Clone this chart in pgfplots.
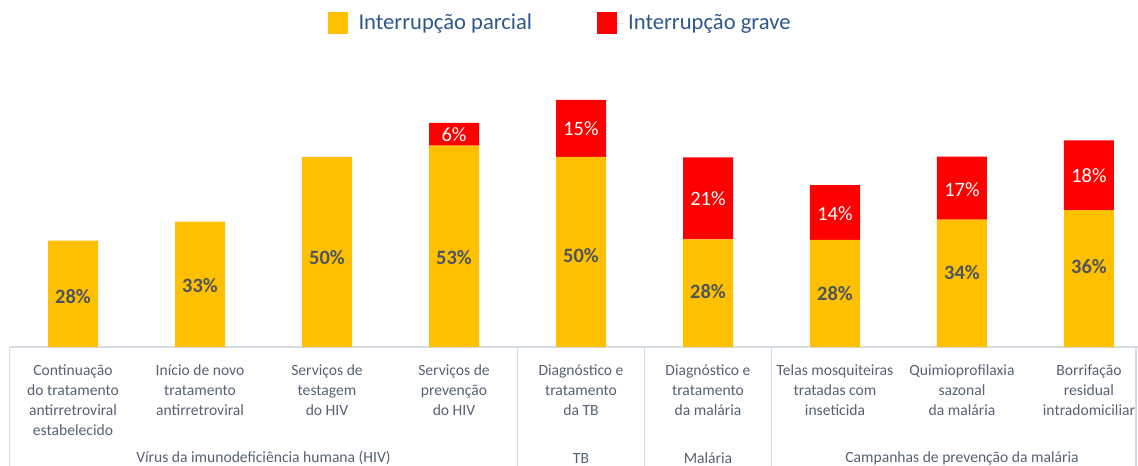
\documentclass[border=0pt]{standalone}
\usepackage{pgfplots}
\pgfplotsset{compat=1.18}
\usepackage{fontspec}
\setmainfont{Carlito}
\definecolor{parcial}{RGB}{255,192,0}
\definecolor{grave}{RGB}{255,0,0}
\definecolor{cattext}{RGB}{84,98,116}
\definecolor{legtext}{RGB}{46,88,140}
\definecolor{valtext}{RGB}{77,85,95}
\definecolor{sepline}{RGB}{214,220,228}
\pgfplotsset{chartframe/.style={width=569pt, height=233pt, scale only axis,
    xmin=-0.575, xmax=8.386, ymin=-31.3, ymax=91.3, clip=false}}
\begin{document}
\begin{tikzpicture}
\begin{axis}[
    chartframe,
    ybar stacked, bar width=25pt,
    hide y axis,
    axis x line*=bottom,
    x axis line style={draw=none},
    xtick={0,...,8}, major tick length=0pt,
    xticklabels={
      {Continuação\\do tratamento\\antirretroviral\\estabelecido},
      {Início de novo\\tratamento\\antirretroviral},
      {Serviços de\\testagem\\do HIV},
      {Serviços de\\prevenção\\do HIV},
      {Diagnóstico e\\tratamento\\da TB},
      {Diagnóstico e\\tratamento\\da malária},
      {Telas mosquiteiras\\tratadas com\\inseticida},
      {Quimioprofilaxia\\sazonal\\da malária},
      {Borrifação\\residual\\intradomiciliar}},
    xticklabel style={align=center, text=cattext, anchor=north,
      yshift=54pt,
      font=\fontsize{7.8}{10}\selectfont},
    legend columns=2,
    legend image code/.code={\fill[#1] (0pt,-5.5pt) rectangle (10pt,5.5pt);
      \path (0pt,0pt) -- (13.5pt,0pt);},
    legend style={at={(0.493,0.95)}, anchor=center, draw=none, fill=none,
      text=legtext, font=\fontsize{11.3}{13}\selectfont,
      /tikz/every even column/.append style={column sep=30.5pt}},
]
% bar heights (labels are the rounded values)
\addplot[fill=parcial, draw=none]
coordinates {(0,28) (1,33) (2,50) (3,53) (4,50) (5,28.3) (6,28.2) (7,33.5) (8,36)};
\addplot[fill=grave, draw=none]
coordinates {(0,0) (1,0) (2,0) (3,6) (4,15) (5,21.6) (6,14.4) (7,16.6) (8,18.4)};
\legend{Interrupção parcial, Interrupção grave}
\coordinate (SW) at (rel axis cs:0,0);
\coordinate (NE) at (rel axis cs:1,1);
% baseline and group separators
\draw[sepline, line width=0.8pt] (axis cs:-0.5,0) -- (axis cs:8.386,0);
\draw[sepline, line width=0.8pt] (axis cs:-0.5,0) -- (axis cs:-0.5,-31.3);
\draw[sepline, line width=0.8pt] (axis cs:3.5,0) -- (axis cs:3.5,-31.3);
\draw[sepline, line width=0.8pt] (axis cs:4.5,0) -- (axis cs:4.5,-31.3);
\draw[sepline, line width=0.8pt] (axis cs:5.5,0) -- (axis cs:5.5,-31.3);
\draw[sepline, line width=0.8pt] (axis cs:8.37,0) -- (axis cs:8.37,-31.3);
\node[text=cattext, font=\fontsize{7.8}{10}\selectfont] at (axis cs:1.5,-29.2) {Vírus da imunodeficiência humana (HIV)};
\node[text=cattext, font=\fontsize{7.8}{10}\selectfont] at (axis cs:4,-29.2) {TB};
\node[text=cattext, font=\fontsize{7.8}{10}\selectfont] at (axis cs:5,-29.2) {Malária};
\node[text=cattext, font=\fontsize{7.8}{10}\selectfont] at (axis cs:7,-29.2) {Campanhas de prevenção da malária};
\end{axis}
% value labels, placed where the reference puts them
\begin{axis}[chartframe, hide axis]
\addplot[only marks, mark=none, point meta=explicit symbolic,
    nodes near coords, every node near coord/.append style={anchor=center,
      text=valtext, font=\fontsize{10.2}{12}\selectfont\bfseries}]
coordinates {(0,13.2)[28\%] (1,16.3)[33\%] (2,23.6)[50\%] (3,23.6)[53\%] (4,24)[50\%]
  (5,14.5)[28\%] (6,14.2)[28\%] (7,19.5)[34\%] (8,21.3)[36\%]};
\addplot[only marks, mark=none, point meta=explicit symbolic,
    nodes near coords, every node near coord/.append style={anchor=center,
      text=white, font=\fontsize{10.2}{12}\selectfont}]
coordinates {(3,56)[6\%] (4,57.5)[15\%] (5,39)[21\%] (6,35)[14\%]
  (7,41.3)[17\%] (8,45)[18\%]};
\end{axis}
\pgfresetboundingbox
\path[use as bounding box] (SW) rectangle (NE);
\end{tikzpicture}
\end{document}
